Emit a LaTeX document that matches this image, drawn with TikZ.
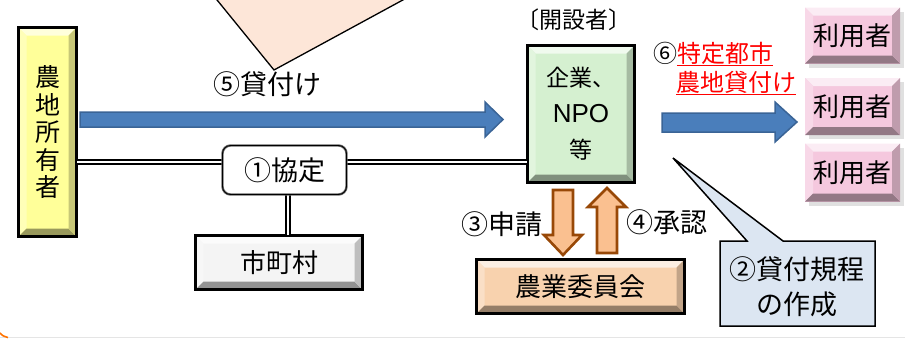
\documentclass[tikz,border=0pt]{standalone}
\usepackage{fontspec}
\setmainfont{Noto Sans CJK JP}
\newfontfamily\latinfont{Liberation Sans}
\definecolor{blueF}{HTML}{4A7EBB}
\definecolor{blueD}{HTML}{3A6496}
\definecolor{orF}{HTML}{FAC090}
\definecolor{orD}{HTML}{984807}
\definecolor{yel}{HTML}{FFFF99}
\definecolor{grn}{HTML}{D5F0D0}
\definecolor{pnk}{HTML}{F5C8DE}
\definecolor{tanc}{HTML}{F8D2AE}
\definecolor{wht}{HTML}{F4F4F4}
\definecolor{peach}{HTML}{FDE6D8}
\definecolor{callb}{HTML}{DCE6F2}
\tikzset{
  bev/.style={fill=#1, inner sep=0pt, path picture={
    \fill[#1!35!white] (path picture bounding box.north west) -- (path picture bounding box.north east)
      -- ([xshift=-8pt,yshift=-8pt]path picture bounding box.north east) -- ([xshift=8pt,yshift=-8pt]path picture bounding box.north west) -- cycle;
    \fill[#1!70!white] (path picture bounding box.north west) -- (path picture bounding box.south west)
      -- ([xshift=8pt,yshift=8pt]path picture bounding box.south west) -- ([xshift=8pt,yshift=-8pt]path picture bounding box.north west) -- cycle;
    \fill[#1!60!black] (path picture bounding box.south west) -- (path picture bounding box.south east)
      -- ([xshift=-8pt,yshift=8pt]path picture bounding box.south east) -- ([xshift=8pt,yshift=8pt]path picture bounding box.south west) -- cycle;
    \fill[#1!78!black] (path picture bounding box.north east) -- (path picture bounding box.south east)
      -- ([xshift=-8pt,yshift=8pt]path picture bounding box.south east) -- ([xshift=-8pt,yshift=-8pt]path picture bounding box.north east) -- cycle;
  }},
  txt/.style={font=\fontsize{27}{32}\selectfont, inner sep=0pt},
  dbl/.style={double=white, draw=black, line width=1.6pt, double distance=2.6pt},
  blk/.style={fill=blueF, draw=blueD, line width=1.5pt, line join=miter},
  ora/.style={fill=orF, draw=orD, line width=2.6pt, line join=miter},
}
\begin{document}
\begin{tikzpicture}[x=1pt,y=-1pt]
\useasboundingbox (0,0) rectangle (905,338);
\clip (0,0) rectangle (905,338);
% top callout (pink)
\filldraw[fill=peach, draw=black, line width=1.3pt] (213,-5) -- (274,70) -- (412,-5);
% bottom frame hint
\draw[black!10, line width=0.8pt] (0,337) -- (905,337);
\draw[orange!90!red, line width=1.6pt] (0,333) .. controls (3,336) .. (8,337.5);

% nodes
\node[bev=yel, draw=black, line width=2.4pt, minimum width=58pt, minimum height=209pt,
      font=\fontsize{25}{27.5}\selectfont, align=center] (owner) at (47.5,132) {農\\地\\所\\有\\者};
\node[bev=grn, draw=black, line width=3pt, minimum width=107pt, minimum height=137pt,
      font=\fontsize{23}{36}\selectfont, align=center] (npo) at (581,114) {企業、\\{\latinfont\fontsize{26}{36}\selectfont NPO}\\等};
\node[bev=wht, draw=black, line width=2.2pt, minimum width=167pt, minimum height=54pt,
      font=\fontsize{26}{30}\selectfont] (city) at (279,262.5) {市町村};
\node[bev=tanc, draw=black, line width=2.2pt, minimum width=208pt, minimum height=54pt,
      font=\fontsize{26}{30}\selectfont] (comm) at (580.5,286.5) {農業委員会};
% user boxes with shadows
\foreach \n/\yy/\hh in {user1/35.5/56, user2/106.5/57, user3/172.5/58}{
  \fill[black!12] (856,\yy+4) ++(-47.5,-\hh/2) rectangle ++(95,\hh);
  \node[bev=pnk, minimum width=95pt, minimum height=\hh pt,
        font=\fontsize{26}{30}\selectfont] (\n) at (852.5,\yy) {利用者};
}

% double connectors
\coordinate (dl) at (77,162);
\coordinate (dr) at (527,162);
\draw[dbl] (dl) -- (dr);
\draw[dbl] (288,195) -- (288,235);
\node[draw=black!60, double=black, double distance=0.8pt, line width=0.8pt, fill=white, rounded corners=8pt,
      minimum width=124pt, minimum height=49pt, txt] (agree) at (284.5,170) {①協定};

% blue block arrows
\path[blk] (80,112) -- (485,112) -- (485,102) -- (503,119.5) -- (485,137) -- (485,127) -- (80,127) -- cycle;
\path[blk] (662,113) -- (775,113) -- (775,102) -- (797,122) -- (775,142) -- (775,132) -- (662,132) -- cycle;
% orange arrows
\path[ora] (553,190) -- (573,190) -- (573,235) -- (582,235) -- (563,255) -- (544,235) -- (553,235) -- cycle;
\path[ora] (597,253) -- (617,253) -- (617,207) -- (626,207) -- (607,188) -- (588,207) -- (597,207) -- cycle;

% blue callout
\filldraw[fill=callb, draw=black, line width=1.5pt, line join=miter]
  (720,241) -- (747,241) -- (673,158) -- (783,241) -- (875,241) -- (875,326) -- (720,326) -- cycle;
\node[font=\fontsize{27}{35}\selectfont, align=center, inner sep=0pt] (call2) at (797,287) {②貸付規程\\の作成};

% labels
\node[txt] (lab5) at (267,84) {⑤貸付け};
\node[font=\fontsize{23}{27}\selectfont, inner sep=0pt] (labopen) at (574,20) {〔開設者〕};
\node[font=\fontsize{24}{28}\selectfont, inner sep=0pt, anchor=west] (lab6a) at (653,54) {⑥\textcolor{red}{\underline{特定都市}}};
\node[font=\fontsize{24}{28}\selectfont, inner sep=0pt, anchor=west] (lab6b) at (676,83) {\textcolor{red}{\underline{農地貸付け}}};
\node[txt] (lab3) at (502,224) {③申請};
\node[txt] (lab4) at (667,222) {④承認};
\end{tikzpicture}
\end{document}
